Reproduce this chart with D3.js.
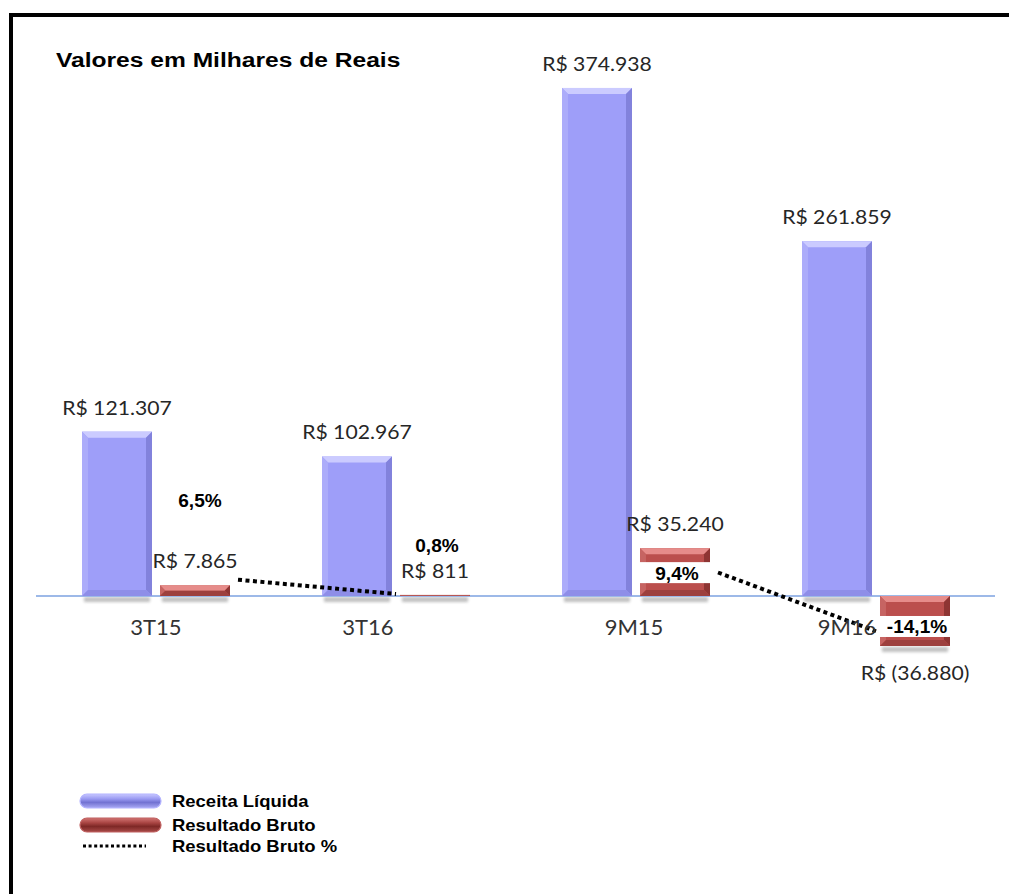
<!DOCTYPE html>
<html>
<head>
<meta charset="utf-8">
<script src="https://cdn.jsdelivr.net/npm/d3@7/dist/d3.min.js"></script>
<style>
  html, body { margin: 0; padding: 0; background: #fff; }
  svg { display: block; }
  .val { font-family: Lato, "Open Sans", sans-serif; font-size: 20px; fill: #262626; }
  .cat { font-family: Lato, "Open Sans", sans-serif; font-size: 22px; fill: #333; }
  .pct { font-family: "Liberation Sans", Arial, sans-serif; font-size: 18px; font-weight: bold; fill: #000; }
  .title { font-family: "Liberation Sans", Arial, sans-serif; font-size: 20.5px; font-weight: bold; fill: #000; }
  .leg { font-family: "Liberation Sans", Arial, sans-serif; font-size: 16.5px; font-weight: bold; fill: #000; }
</style>
</head>
<body>
<svg id="chart" width="1009" height="894"></svg>
<script>
// ---------- data ----------
const categories = ['3T15', '3T16', '9M15', '9M16'];
const receitaLiquida = [121307, 102967, 374938, 261859];
const resultadoBruto = [7865, 811, 35240, -36880];
const resultadoBrutoPct = [6.5, 0.8, 9.4, -14.1];
const lineSegments = [['3T15', '3T16'], ['9M15', '9M16']];
const seriesNames = ['Receita Líquida', 'Resultado Bruto', 'Resultado Bruto %'];
const titleText = 'Valores em Milhares de Reais';

// ---------- layout / style ----------
const W = 1009, H = 894;
const svg = d3.select('#chart');
const defs = svg.append('defs');
const blur = defs.append('filter').attr('id', 'blur').attr('x', '-20%').attr('y', '-100%').attr('width', '140%').attr('height', '300%');
blur.append('feGaussianBlur').attr('stdDeviation', 1.6);

const loc = d3.formatLocale({decimal: ',', thousands: '.', grouping: [3], currency: ['R$ ', ''], minus: '-'});
const fmtInt = loc.format(',d');
const fmtPct = loc.format('.1f');
const money = v => v < 0 ? `R$ (${fmtInt(-v)})` : `R$ ${fmtInt(v)}`;

const x0 = d3.scaleBand().domain(categories).range([36, 996]).paddingInner(0.38333).paddingOuter(0.19167);
const x1 = d3.scaleBand().domain(['rec', 'res']).range([0, x0.bandwidth()]).paddingInner(8 / 78);
const y = d3.scaleLinear().domain([-100000, 400000]).range([731.5, 54]);
const yPct = d3.scaleLinear().domain([-20, 20]).range([646, 546]);

const catNudge = {'3T15': 0, '3T16': -28, '9M15': -2, '9M16': -29};
const pctLayout = {
  '3T15': {mode: 'free', dx: 5, dy: -89},
  '3T16': {mode: 'free', dx: 2, dy: -44},
  '9M15': {mode: 'inside'},
  '9M16': {mode: 'inside'}
};

const blueC = {main: '#9e9ef9', top: '#cbcbff', left: '#acacfa', right: '#8282dc', bottom: '#8e8ee8'};
const redC = {main: '#bb4f4d', top: '#e68c8a', left: '#c66462', right: '#8e3533', bottom: '#9d403e'};

function stext(g, x, yy, str, cls, sx, anchor) {
  return g.append('text')
    .attr('class', cls)
    .attr('transform', `translate(${x},${yy}) scale(${sx},1)`)
    .attr('text-anchor', anchor || 'middle')
    .text(str);
}

function bevelBar(g, x, yy, w, h, c) {
  if (h <= 0) return;
  const b = Math.min(6, h / 2, w / 2);
  g.append('rect').attr('x', x).attr('y', yy).attr('width', w).attr('height', h).attr('fill', c.main);
  const poly = (pts, fill) => g.append('polygon').attr('points', pts.map(p => p.join(',')).join(' ')).attr('fill', fill);
  poly([[x, yy], [x + w, yy], [x + w - b, yy + b], [x + b, yy + b]], c.top);
  poly([[x, yy], [x + b, yy + b], [x + b, yy + h - b], [x, yy + h]], c.left);
  poly([[x + w, yy], [x + w, yy + h], [x + w - b, yy + h - b], [x + w - b, yy + b]], c.right);
  poly([[x, yy + h], [x + b, yy + h - b], [x + w - b, yy + h - b], [x + w, yy + h]], c.bottom);
}

// ---------- border ----------
svg.append('path').attr('d', `M11,${H} L11,15 L${W},15`).attr('fill', 'none').attr('stroke', '#000').attr('stroke-width', 4);

// ---------- title ----------
stext(svg, 56, 67, titleText, 'title', 1.2, 'start');

const gShadow = svg.append('g');
const gAxis = svg.append('g');
const gBars = svg.append('g');
const gLine = svg.append('g');
const gLabels = svg.append('g');

const rows = categories.map((c, i) => ({cat: c, rec: receitaLiquida[i], res: resultadoBruto[i], pct: resultadoBrutoPct[i]}));

rows.forEach(d => {
  const gx = x0(d.cat);
  // receita bar
  const bx = gx + x1('rec'), bw = x1.bandwidth();
  const top = y(d.rec), base = y(0);
  gShadow.append('rect').attr('x', bx + 2).attr('y', base + 1).attr('width', bw - 4).attr('height', 5)
    .attr('fill', '#8c8c8c').attr('opacity', 0.55).attr('filter', 'url(#blur)');
  bevelBar(gBars, bx, top, bw, base - top, blueC);
  stext(gLabels, bx + bw / 2, top - 17, money(d.rec), 'val', 1.06);

  // resultado bar
  const rx = gx + x1('res');
  const rTop = Math.min(y(d.res), y(0)), rBot = Math.max(y(d.res), y(0));
  gShadow.append('rect').attr('x', rx + 2).attr('y', rBot + 1).attr('width', bw - 4).attr('height', 5)
    .attr('fill', '#8c8c8c').attr('opacity', 0.55).attr('filter', 'url(#blur)');
  bevelBar(gBars, rx, rTop, bw, rBot - rTop, redC);
  const ly = d.res >= 0 ? rTop - 17 : rBot + 34;
  stext(gLabels, rx + bw / 2, ly, money(d.res), 'val', 1.06);

  // category label
  stext(gLabels, gx + x0.bandwidth() / 2 + catNudge[d.cat], 635, d.cat, 'cat', 1.0);
});

// axis line
gAxis.append('line').attr('x1', 36).attr('x2', 995).attr('y1', y(0)).attr('y2', y(0))
  .attr('stroke', '#9db9e8').attr('stroke-width', 2);

// ---------- percentage line (broken into two segments) ----------
const byCat = Object.fromEntries(rows.map(d => [d.cat, d]));
lineSegments.forEach(([a, b]) => {
  const pa = [x0(a) + x1('res') + x1.bandwidth() + 8, yPct(byCat[a].pct)];
  const pb = [x0(b) + x1('res') - 4, yPct(byCat[b].pct)];
  gLine.append('path').attr('d', d3.line()([pa, pb]))
    .attr('fill', 'none').attr('stroke', '#000').attr('stroke-width', 4).attr('stroke-dasharray', '4,3.5');
});

// ---------- percentage labels ----------
rows.forEach(d => {
  const rx = x0(d.cat) + x1('res'), bw = x1.bandwidth();
  const L = pctLayout[d.cat];
  const txt = fmtPct(d.pct) + '%';
  if (L.mode === 'inside') {
    const rTop = Math.min(y(d.res), y(0)), rBot = Math.max(y(d.res), y(0));
    const cy = (rTop + rBot) / 2 + (d.res >= 0 ? 0.5 : 5.5);
    gLabels.append('rect').attr('x', rx - 3).attr('y', cy - 10.5).attr('width', bw + 6).attr('height', 21).attr('fill', '#fff');
    stext(gLabels, rx + bw / 2 + 2, cy + 7, txt, 'pct', 1.06);
  } else {
    stext(gLabels, rx + bw / 2 + L.dx, y(0) + L.dy, txt, 'pct', 1.06);
  }
});

// ---------- legend ----------
const gLeg = svg.append('g');
function pillGrad(id, stops) {
  const gr = defs.append('linearGradient').attr('id', id).attr('x1', 0).attr('y1', 0).attr('x2', 0).attr('y2', 1);
  stops.forEach(([o, c]) => gr.append('stop').attr('offset', o).attr('stop-color', c));
}
pillGrad('gBlue', [[0, '#c8c8ff'], [0.35, '#9a9af2'], [0.6, '#7272d2'], [1, '#a9a9f4']]);
pillGrad('gRed', [[0, '#d27472'], [0.35, '#a84442'], [0.6, '#7e2826'], [1, '#a84a48']]);

const legX = 80, legTextX = 172;
const legRows = [
  {name: seriesNames[0], type: 'pill', fill: 'url(#gBlue)', stroke: '#b4b4ff', cy: 801},
  {name: seriesNames[1], type: 'pill', fill: 'url(#gRed)', stroke: '#c06060', cy: 825},
  {name: seriesNames[2], type: 'dots', cy: 846}
];
legRows.forEach(r => {
  if (r.type === 'pill') {
    gLeg.append('rect').attr('x', legX).attr('y', r.cy - 7).attr('width', 81).attr('height', 14).attr('rx', 7)
      .attr('fill', r.fill).attr('stroke', r.stroke).attr('stroke-width', 1.2);
  } else {
    gLeg.append('line').attr('x1', legX + 3).attr('x2', legX + 66).attr('y1', r.cy).attr('y2', r.cy)
      .attr('stroke', '#000').attr('stroke-width', 3).attr('stroke-dasharray', '3,2.6');
  }
  stext(gLeg, legTextX, r.cy + 5.5, r.name, 'leg', 1.12, 'start');
});
</script>
</body>
</html>
